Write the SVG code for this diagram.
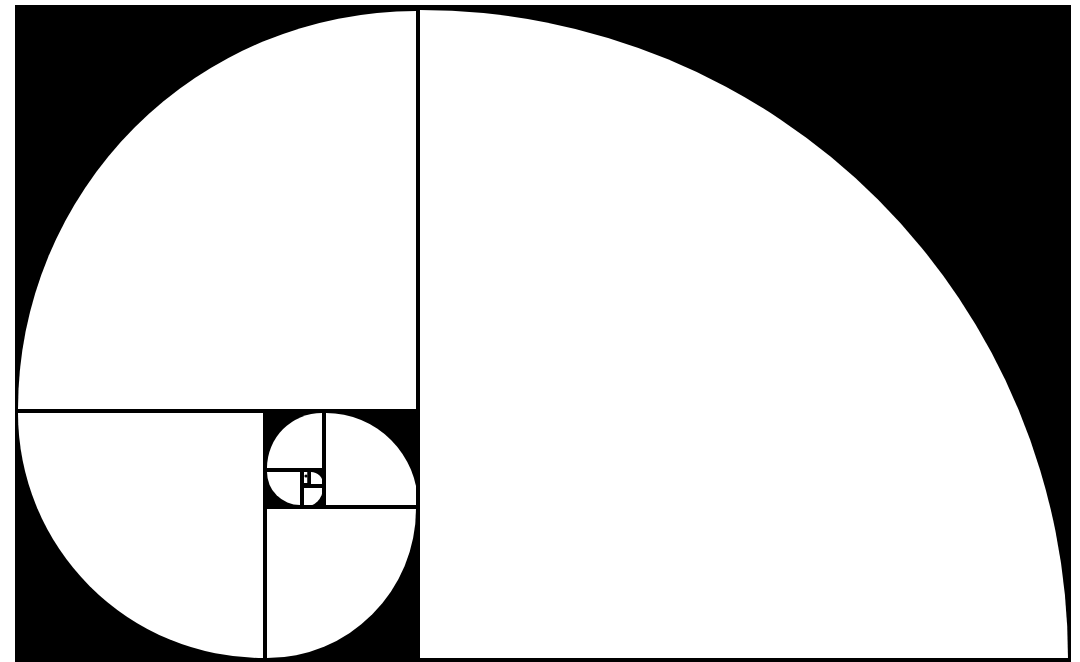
<svg xmlns="http://www.w3.org/2000/svg" width="1080" height="662" viewBox="0 0 1080 662">
  <style>
    .sec { fill: #ffffff; stroke: none; }
    .ln { stroke: #000000; stroke-width: 4; fill: none; }
    .lt { stroke: #000000; stroke-width: 3; fill: none; }
  </style>
  <rect x="0" y="0" width="1080" height="662" fill="#ffffff"/>
  <g id="frame">
    <rect x="15" y="5" width="1056" height="657" fill="#000000"/>
  </g>
  <g id="sectors">
    <path id="s1" class="sec" d="M420,658 L420,10 A648,648 0 0 1 1068,658 Z"/>
    <path id="s2" class="sec" d="M416,409 L18,409 A398,398 0 0 1 416,11 Z"/>
    <path id="s3" class="sec" d="M263,413 L263,658 A245,245 0 0 1 18,413 Z"/>
    <path id="s4" class="sec" d="M267,509 L416,509 A149,149 0 0 1 267,658 Z"/>
    <path id="s5" class="sec" d="M326,505 L326,413 A92,92 0 0 1 418,505 Z"/>
    <path id="s6" class="sec" d="M322,468 L267,468 A55,55 0 0 1 322,413 Z"/>
    <path id="s7" class="sec" d="M300,472 L300,505 A33,33 0 0 1 267,472 Z"/>
    <path id="s8" class="sec" d="M304,488 L323,488 A19,19 0 0 1 304,507 Z"/>
    <path id="s9" class="sec" d="M311,484 L311,472 A12,12 0 0 1 323,484 Z"/>
    <rect id="s10" class="sec" x="303.5" y="472" width="4" height="11"/>
    <circle cx="306" cy="476" r="1.6" fill="#000000"/>
  </g>
  <g id="connectors">
    <line class="ln" x1="418" y1="5" x2="418" y2="662"/>
    <line class="ln" x1="15" y1="411" x2="418" y2="411"/>
    <line class="ln" x1="265" y1="411" x2="265" y2="662"/>
    <line class="ln" x1="265" y1="507" x2="418" y2="507"/>
    <line class="ln" x1="324" y1="411" x2="324" y2="507"/>
    <line class="ln" x1="265" y1="470" x2="324" y2="470"/>
    <line class="ln" x1="302" y1="470" x2="302" y2="507"/>
    <line class="lt" x1="302" y1="486" x2="324" y2="486"/>
    <line class="lt" x1="309" y1="470" x2="309" y2="486"/>
  </g>
</svg>
